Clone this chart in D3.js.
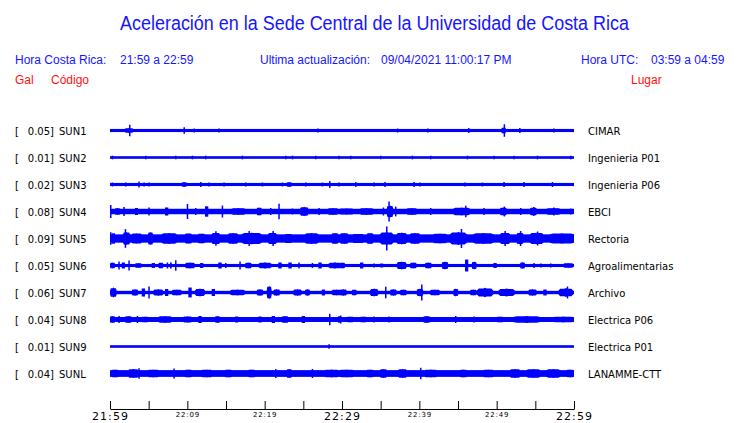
<!DOCTYPE html>
<html><head><meta charset="utf-8">
<script src="https://cdn.jsdelivr.net/npm/d3@7"></script>
<style>
html,body{margin:0;padding:0;background:#fff;}
svg{display:block;}
.hdr{font-family:"Liberation Sans",Arial,sans-serif;font-size:12px;fill:#1515ff;}
.red{font-family:"Liberation Sans",Arial,sans-serif;font-size:12px;fill:#ff1010;}
.lbl{font-family:"DejaVu Sans",sans-serif;font-size:10px;fill:#000;}
</style></head>
<body>
<svg id="c" width="740" height="423"></svg>
<script>
const title = "Aceleración en la Sede Central de la Universidad de Costa Rica";
const horaLocal = "21:59 a 22:59";
const ultima = "09/04/2021 11:00:17 PM";
const horaUTC = "03:59 a 04:59";

const codes = ["SUN1","SUN2","SUN3","SUN4","SUN5","SUN6","SUN7","SUN8","SUN9","SUNL"];
const places = ["CIMAR","Ingenieria P01","Ingenieria P06","EBCI","Rectoria","Agroalimentarias","Archivo","Electrica P06","Electrica P01","LANAMME-CTT"];
const peakGal = [0.05,0.01,0.02,0.08,0.09,0.05,0.06,0.04,0.01,0.04];
// background noise half-amplitude (Gal)
const baseGal = [0.012,0.010,0.012,0.021,0.032,0.012,0.013,0.019,0.010,0.026];

// bursts: [start minute, end minute, half-amplitude Gal], minutes after 21:59
const sun1 = [[1.9,3.0,0.019],[2.46,2.46,0.045],[9.5,9.5,0.025],[10.8,10.8,0.015],[14.0,14.0,0.015],[26.8,26.8,0.015],[37.1,37.1,0.015],[41.0,41.0,0.015],[46.3,46.3,0.019],[50.6,51.2,0.023],[50.9,50.9,0.048],[52.9,52.9,0.019],[57.3,57.3,0.015]];
const sun2 = [[0.22,0.22,0.014],[4.53,4.53,0.014],[8.41,8.41,0.014],[10.57,10.57,0.014],[12.28,12.28,0.014],[17.03,17.03,0.014],[22.63,22.63,0.014],[23.5,23.5,0.014],[26.51,26.51,0.014],[29.52,29.52,0.014],[31.04,31.04,0.014],[34.92,34.92,0.014],[39.01,39.01,0.014],[41.38,41.38,0.014],[46.13,46.13,0.014],[49.57,49.57,0.014],[52.15,52.15,0.014],[55.18,55.18,0.014],[59.48,59.48,0.014]];
const sun3 = [[0.22,0.22,0.015],[1.94,1.94,0.015],[3.66,3.66,0.023],[4.31,4.31,0.015],[4.95,4.95,0.015],[9.27,9.92,0.019],[11.64,11.64,0.019],[12.71,12.71,0.015],[14.65,14.65,0.015],[17.46,17.46,0.015],[19.62,19.62,0.015],[22.2,22.2,0.015],[22.85,23.5,0.019],[25.22,25.22,0.015],[27.38,27.38,0.015],[28.32,28.32,0.026],[29.52,29.52,0.015],[31.68,31.68,0.019],[34.05,34.05,0.015],[35.47,35.47,0.019],[39.22,39.22,0.019],[40.0,40.0,0.015],[45.82,45.82,0.015],[48.06,48.06,0.015],[50.86,50.86,0.019],[53.45,53.45,0.019],[57.12,57.12,0.019]];
const sun4 = [[0,0,0.05],[0.65,1.29,0.027],[1.72,1.72,0.035],[3.23,3.62,0.027],[4.95,4.95,0.031],[7.11,7.54,0.031],[9.92,9.92,0.058],[10.99,10.99,0.027],[12.28,12.71,0.04],[14.44,14.44,0.046],[15.74,17.46,0.027],[18.97,19.62,0.031],[20.69,20.69,0.027],[21.76,21.76,0.06],[23.5,23.5,0.023],[24.57,25.64,0.036],[26.94,26.94,0.027],[28.19,29.48,0.027],[29.74,31.42,0.025],[32.33,34.05,0.027],[35.26,35.26,0.031],[35.78,36.63,0.05],[35.99,35.99,0.077],[36.85,36.85,0.038],[38.37,39.66,0.027],[41.38,41.38,0.027],[44.39,46.55,0.031],[45.91,45.91,0.045],[48.27,48.27,0.027],[50.43,51.3,0.031],[50.9,50.9,0.038],[53.02,53.02,0.027],[54.31,55.18,0.031],[54.7,54.7,0.035],[56.47,58.19,0.027],[57.3,57.3,0.03],[59.48,59.48,0.023]];
const sun5 = [[0,0,0.049],[0.22,0.65,0.04],[1.68,2.59,0.05],[1.9,1.9,0.072],[2.81,4.1,0.04],[4.91,5.56,0.05],[6.69,8.63,0.042],[9.7,10.57,0.04],[11.38,12.28,0.038],[13.15,14.22,0.045],[13.6,13.6,0.056],[15.26,16.55,0.042],[17.03,19.62,0.045],[17.9,17.9,0.058],[20.43,21.56,0.045],[21.0,21.0,0.058],[22.63,23.5,0.035],[25.22,26.94,0.042],[28.67,29.52,0.042],[29.74,30.82,0.042],[31.42,32.72,0.035],[33.2,34.05,0.042],[34.92,36.63,0.05],[35.69,35.69,0.092],[37.07,38.37,0.046],[38.79,40.09,0.042],[41.81,43.54,0.038],[43.97,46.13,0.05],[45.35,45.35,0.073],[46.98,49.57,0.042],[50.43,51.73,0.045],[51.0,51.0,0.058],[52.59,53.45,0.045],[53.0,53.0,0.058],[54.31,56.03,0.045],[55.2,55.2,0.054],[56.9,60,0.04]];
const sun6 = [[0,0.65,0.023],[1.07,1.07,0.031],[1.51,1.94,0.023],[2.37,2.37,0.038],[3.23,4.1,0.019],[5.39,5.82,0.019],[6.25,6.89,0.023],[7.33,7.33,0.023],[7.76,7.98,0.023],[8.41,8.41,0.041],[9.7,10.99,0.023],[11.64,12.07,0.019],[14.0,14.44,0.023],[14.87,14.87,0.019],[16.72,16.72,0.031],[17.46,18.32,0.023],[19.18,20.91,0.025],[21.76,22.2,0.023],[23.06,23.5,0.023],[24.35,24.35,0.023],[26.08,26.08,0.019],[26.94,27.38,0.023],[28.23,29.96,0.025],[29.74,30.39,0.023],[32.33,32.76,0.023],[34.05,34.05,0.015],[34.92,35.34,0.015],[37.07,38.37,0.031],[38.79,39.66,0.023],[40.73,41.6,0.023],[42.89,43.75,0.031],[45.91,46.33,0.046],[46.77,47.42,0.031],[49.57,50.01,0.019],[53.02,53.67,0.027],[54.74,54.74,0.019],[55.61,55.61,0.015],[56.9,56.9,0.015],[58.62,59.91,0.019]];
const sun7 = [[0,0.87,0.04],[2.81,3.66,0.027],[4.1,4.53,0.031],[4.95,4.95,0.046],[5.6,6.89,0.027],[7.11,7.54,0.027],[7.98,9.27,0.023],[10.13,10.57,0.038],[10.99,12.28,0.031],[13.15,13.58,0.027],[15.52,17.46,0.023],[18.97,19.82,0.027],[20.26,20.91,0.054],[21.12,21.98,0.027],[23.7,24.79,0.027],[25.22,25.86,0.027],[27.38,27.8,0.023],[28.67,29.96,0.023],[29.74,30.61,0.027],[31.26,31.9,0.023],[33.62,34.7,0.031],[35.56,35.56,0.045],[36.21,37.07,0.027],[37.5,38.37,0.023],[39.66,40.51,0.031],[40.22,40.22,0.062],[41.38,42.67,0.023],[44.39,45.04,0.031],[46.55,47.42,0.023],[47.42,49.57,0.036],[50.21,52.37,0.031],[54.09,55.18,0.027],[56.03,56.47,0.023],[57.97,59.91,0.035],[59.06,59.06,0.046]];
const sun8 = [[0,0.65,0.027],[1.07,1.07,0.027],[1.94,2.81,0.027],[3.45,3.45,0.027],[4.1,4.95,0.023],[6.25,7.98,0.027],[9.48,10.57,0.025],[11.42,11.86,0.027],[13.58,14.22,0.027],[16.16,16.59,0.023],[19.18,19.62,0.023],[20.91,21.34,0.027],[22.2,23.06,0.027],[24.79,25.22,0.027],[28.32,28.32,0.044],[29.52,29.52,0.027],[29.74,29.74,0.031],[30.61,31.46,0.023],[32.33,33.2,0.023],[34.05,34.05,0.023],[35.99,35.99,0.023],[40.51,41.38,0.027],[44.61,44.61,0.027],[46.98,46.98,0.023],[50.01,50.86,0.023],[52.15,55.61,0.027],[57.33,59.91,0.023]];
const sun9 = [[28.23,28.23,0.017]];
const sunl = [[0.22,1.07,0.031],[2.37,3.66,0.035],[3.66,3.66,0.04],[4.95,6.25,0.031],[8.19,8.19,0.038],[9.7,10.57,0.031],[11.86,13.15,0.031],[14.87,15.74,0.031],[17.88,18.75,0.031],[21.34,21.34,0.035],[22.85,23.5,0.035],[26.08,26.08,0.035],[27.8,29.52,0.031],[29.74,31.46,0.031],[33.2,34.05,0.031],[34.92,35.78,0.035],[37.28,38.37,0.035],[40.09,40.09,0.045],[40.73,42.25,0.031],[45.26,46.13,0.031],[48.27,49.57,0.031],[51.73,53.02,0.035],[53.88,55.61,0.035],[56.47,58.19,0.035],[59.06,59.91,0.031]];
const bursts = [sun1,sun2,sun3,sun4,sun5,sun6,sun7,sun8,sun9,sunl];

const tickMinutes = [0,5,10,15,20,25,30,35,40,45,50,55,60];
const tickLabels = {0:"21:59",10:"22:09",20:"22:19",30:"22:29",40:"22:39",50:"22:49",60:"22:59"};
const bigTicks = [0,30,60];

const svg = d3.select("#c");
const x = d3.scaleLinear().domain([0,60]).range([110,574]);
const row = d3.scaleBand().domain(codes).range([117,387]);
const amp = d3.scaleLinear().domain([0,0.1]).range([0,13]);

svg.append("text").attr("x",120).attr("y",30)
  .attr("textLength",509).attr("lengthAdjust","spacingAndGlyphs")
  .style("font-family","'Liberation Sans',Arial,sans-serif").style("font-size","20px").style("fill","#1515ff").text(title);

svg.append("text").attr("class","hdr").attr("x",15).attr("y",64).text("Hora Costa Rica:");
svg.append("text").attr("class","hdr").attr("x",120).attr("y",64).text(horaLocal);
svg.append("text").attr("class","hdr").attr("x",260).attr("y",64).text("Ultima actualización:");
svg.append("text").attr("class","hdr").attr("x",381).attr("y",64).text(ultima);
svg.append("text").attr("class","hdr").attr("x",581).attr("y",64).text("Hora UTC:");
svg.append("text").attr("class","hdr").attr("x",651).attr("y",64).text(horaUTC);
svg.append("text").attr("class","red").attr("x",15).attr("y",84).text("Gal");
svg.append("text").attr("class","red").attr("x",51).attr("y",84).text("Código");
svg.append("text").attr("class","red").attr("x",631).attr("y",84).text("Lugar");

// burst glyph: spindle from background level up to the burst amplitude
function burstPath(d, base){
  const x0 = x(d[0]), x1 = Math.max(x(d[1]), x0 + 1.5);
  const a = amp(d[2]), b = Math.min(amp(base), a);
  if (x1 - x0 < 4) return `M${x0},${-a}H${x1}V${a}H${x0}Z`;
  const xm = (x0 + x1) / 2, q = (x1 - x0) / 4;
  const a2 = b + (a - b) * 0.75;
  return `M${x0},${-b}L${x0+q*0.5},${-a2}L${xm-q*0.4},${-a2}L${xm},${-a}L${xm+q*0.4},${-a2}L${x1-q*0.5},${-a2}L${x1},${-b}`+
         `V${b}L${x1-q*0.5},${a2}L${xm+q*0.4},${a2}L${xm},${a}L${xm-q*0.4},${a2}L${x0+q*0.5},${a2}L${x0},${b}Z`;
}

codes.forEach((c,i)=>{
  const cy = row(c) + row.bandwidth()/2;
  const g = svg.append("g").attr("transform",`translate(0,${cy})`);
  g.append("text").attr("class","lbl").attr("x",15).attr("y",4).text("[");
  g.append("text").attr("class","lbl").attr("x",54).attr("y",4).attr("text-anchor","end").text(peakGal[i].toFixed(2)+"]");
  g.append("text").attr("class","lbl").attr("x",59).attr("y",4).text(c);
  g.append("text").attr("class","lbl").attr("x",588).attr("y",4).text(places[i]);
  g.append("rect").attr("x",x(0)).attr("width",x(60)-x(0))
    .attr("y",-amp(baseGal[i])).attr("height",2*amp(baseGal[i])).attr("fill","#0000ff");
  g.selectAll("path.b").data(bursts[i]).enter().append("path").attr("class","b")
    .attr("d",d=>burstPath(d, baseGal[i])).attr("fill","#0000ff");
});

const axis = d3.axisBottom(x).tickValues(tickMinutes).tickSizeInner(-8).tickSizeOuter(0).tickPadding(3)
  .tickFormat(d=>tickLabels[d]||"");
const ag = svg.append("g").attr("transform","translate(0,409)").call(axis);
ag.selectAll("path,line").attr("stroke","#000").attr("stroke-width",1);
ag.selectAll("text").attr("fill","#000")
  .style("font-family","'DejaVu Sans',sans-serif")
  .style("font-size",d=>bigTicks.includes(d)?"11px":"7px")
  .style("letter-spacing",d=>bigTicks.includes(d)?"1.1px":"0.8px")
  .attr("dy","0.72em");
</script>
</body></html>
